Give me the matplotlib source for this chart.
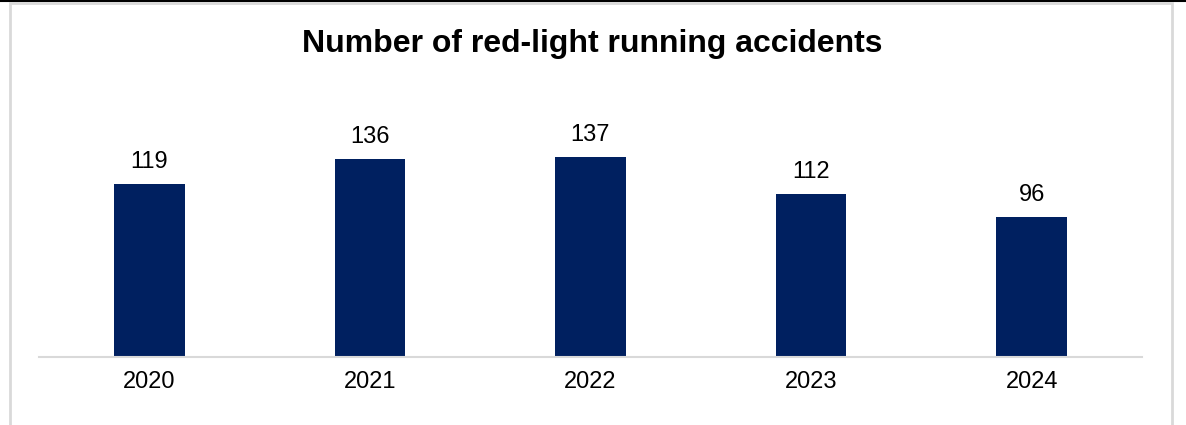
import matplotlib.pyplot as plt
from matplotlib.patches import Rectangle
from matplotlib.lines import Line2D

years = ["2020", "2021", "2022", "2023", "2024"]
accidents = [119, 136, 137, 112, 96]

plt.rcParams["font.family"] = ["Liberation Sans", "DejaVu Sans"]

fig = plt.figure(figsize=(11.86, 4.25), dpi=100)
W, H = 1186, 425

# outer frame: black top line, light grey chart border
fig.add_artist(Line2D([0, 1], [1 - 0.5 / H, 1 - 0.5 / H], color="black", lw=1.5,
                      transform=fig.transFigure, zorder=-2))
fig.add_artist(Rectangle((10 / W, -0.05), 1162 / W, 1.05 - 2.5 / H,
                         transform=fig.transFigure, fill=True, facecolor="white",
                         edgecolor="#d9d9d9", lw=2, zorder=-1))

ax = fig.add_axes([39 / W, 1 - 357 / H, 1103 / W, 233 / H])
ax.patch.set_alpha(0)
x = range(len(years))
bars = ax.bar(x, accidents, width=0.32, color="#002060")
ax.set_xlim(-0.5, 4.5)
ax.set_ylim(0, 160)
for b, v in zip(bars, accidents):
    ax.annotate(str(v), (b.get_x() + b.get_width() / 2, v), xytext=(0, 8),
                textcoords="offset points", ha="center", va="bottom",
                fontsize=17, color="#000000")

ax.set_xticks(list(x))
ax.set_xticklabels(years, fontsize=17)
ax.tick_params(axis="x", length=0, pad=10)
ax.set_yticks([])
for s in ["top", "right", "left"]:
    ax.spines[s].set_visible(False)
ax.spines["bottom"].set_color("#d9d9d9")
ax.spines["bottom"].set_linewidth(1.5)

fig.text(592 / W, 1 - 44 / H, "Number of red-light running accidents",
         ha="center", va="center", fontsize=23, fontweight="bold")

fig.savefig("out.png", dpi=100)
